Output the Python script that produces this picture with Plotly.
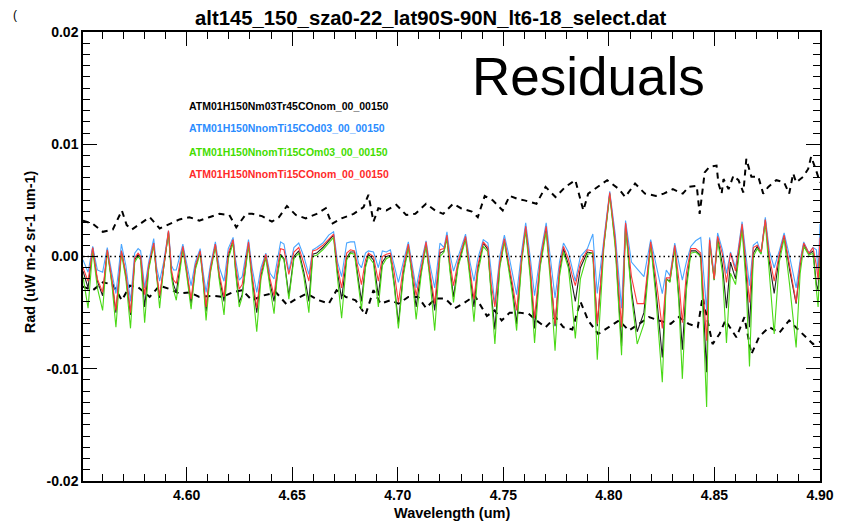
import plotly.graph_objects as go

SCALE = 1e-3  # values below are in units of 1e-3

wavelength = [
    4.5509, 4.5533, 4.5555, 4.5577, 4.5602, 4.5624, 4.5646, 4.5665, 4.5691, 4.5712,
    4.5734, 4.5754, 4.5770, 4.5782, 4.5801, 4.5820, 4.5844, 4.5858, 4.5872, 4.5891,
    4.5914, 4.5928, 4.5938, 4.5951, 4.5982, 4.5999, 4.6021, 4.6041, 4.6064, 4.6079,
    4.6092, 4.6112, 4.6136, 4.6155, 4.6177, 4.6197, 4.6220, 4.6232, 4.6249, 4.6263,
    4.6293, 4.6310, 4.6332, 4.6352, 4.6375, 4.6395, 4.6414, 4.6428, 4.6445, 4.6461,
    4.6484, 4.6508, 4.6531, 4.6555, 4.6579, 4.6597, 4.6616, 4.6645, 4.6673, 4.6696,
    4.6715, 4.6734, 4.6758, 4.6776, 4.6795, 4.6814, 4.6828, 4.6847, 4.6861, 4.6885,
    4.6908, 4.6927, 4.6946, 4.6965, 4.6984, 4.7003, 4.7026, 4.7050, 4.7069, 4.7087,
    4.7111, 4.7134, 4.7153, 4.7175, 4.7200, 4.7219, 4.7233, 4.7247, 4.7264, 4.7285,
    4.7321, 4.7342, 4.7361, 4.7379, 4.7405, 4.7427, 4.7443, 4.7460, 4.7483, 4.7505,
    4.7524, 4.7544, 4.7563, 4.7587, 4.7606, 4.7627, 4.7648, 4.7674, 4.7703, 4.7722,
    4.7745, 4.7766, 4.7785, 4.7808, 4.7825, 4.7841, 4.7865, 4.7898, 4.7924, 4.7945,
    4.7976, 4.8004, 4.8030, 4.8060, 4.8079, 4.8107, 4.8134, 4.8166, 4.8198, 4.8222,
    4.8253, 4.8272, 4.8289, 4.8312, 4.8331, 4.8348, 4.8367, 4.8388, 4.8411, 4.8435,
    4.8463, 4.8477, 4.8499, 4.8515, 4.8538, 4.8557, 4.8576, 4.8600, 4.8631, 4.8650,
    4.8666, 4.8684, 4.8703, 4.8721, 4.8741, 4.8760, 4.8783, 4.8807, 4.8830, 4.8856,
    4.8887, 4.8906, 4.8923, 4.8948, 4.8967, 4.8983, 4.8991, 4.9000,
]

# black: ATM01H150Nm03Tr45COnom_00_00150
res_nm03 = [
    -1.3, -2.8, 0.8, -2.2, -3.5, 0.6, -2.3, -5.0, 0.5, -1.7,
    -5.2, -0.3, 0.2, -0.1, -4.5, -1.0, 1.2, -1.7, -3.7, -0.9,
    2.2, -1.5, -2.5, -3.2, 0.9, -1.2, -4.2, -1.0, 0.5, -2.2,
    -4.9, -1.3, 1.1, -1.9, -4.0, 0.0, 1.5, -1.2, -4.1, -3.4,
    1.2, -2.0, -5.0, -1.7, 0.1, -2.4, -4.0, -1.8, 0.2, -0.2,
    -3.5, 0.0, 0.5, -1.4, -4.0, 0.2, 0.3, 0.8, 1.4, 1.9,
    -1.5, -3.8, -0.1, 0.4, 0.4, -2.0, -4.0, -0.8, 0.2, -0.3,
    -3.5, -0.5, 0.0, 0.1, -2.5, -6.0, -1.5, 1.0, -1.7, -4.5,
    -1.3, 1.1, -1.8, -4.8, 0.3, 0.5, 1.8, -1.0, -3.6, -0.8,
    1.7, -1.6, -4.5, -1.1, 1.2, 0.6, -3.3, -6.5, -0.8, 1.5,
    -0.7, -3.0, -6.0, -0.2, 2.6, -1.3, -6.4, -0.8, 2.6, -1.5,
    -6.2, -1.4, 0.7, -0.7, -2.5, -4.0, -1.0, 0.4, 0.3, -6.2,
    1.0, 5.6, 1.2, -8.0, 2.9, -3.0, -6.7, -5.0, 1.3, -2.8,
    -9.0, -2.0, -2.2, 0.9, -3.5, -8.3, -2.5, 0.5, 0.5, 0.1,
    -10.3, 1.4, -2.1, 1.7, -0.8, -4.6, -0.5, -2.0, 2.8, -1.5,
    -6.3, 0.3, 0.9, 0.3, 3.3, -0.5, -3.3, 0.0, 1.9, -1.2,
    -4.2, -0.8, 1.1, 0.2, 0.5, -2.5, -3.0, 0.8,
]

# blue: ATM01H150NnomTi15COd03_00_00150
res_cod03 = [
    -0.3, -1.4, 0.9, -1.2, -1.4, 0.8, -1.5, -3.3, 1.1, -0.8,
    -4.0, 0.3, 0.7, 0.5, -2.8, -0.5, 1.6, -1.0, -2.2, -0.5,
    2.3, -0.8, -1.2, -1.2, 1.1, -0.5, -2.6, -0.5, 0.7, -1.5,
    -3.2, -0.8, 1.3, -1.0, -2.2, 0.7, 1.7, -0.3, -2.1, -1.8,
    1.5, -1.0, -3.2, -1.0, 0.3, -1.5, -2.0, -0.5, 1.3, 1.1,
    -1.3, 0.8, 1.2, 0.0, -1.6, 0.6, 0.8, 1.2, 1.9, 2.2,
    -0.5, -1.8, 1.2, 1.3, 1.3, -0.6, -1.0, 0.3, 0.5, 0.4,
    -1.0, 0.5, 0.4, 0.6, -0.8, -2.3, -0.5, 1.3, -0.8, -2.8,
    -0.5, 1.4, -0.8, -2.8, 1.2, 0.8, 2.2, 0.2, -1.3, 0.0,
    2.0, -0.5, -2.2, -0.2, 1.5, 1.2, -1.5, -4.2, 0.0, 1.9,
    0.3, -1.5, -3.4, 0.5, 3.0, 0.0, -3.5, 0.0, 3.0, 0.0,
    -3.7, -0.5, 1.2, 0.4, -1.0, -2.2, 0.0, 0.7, 2.0, -3.3,
    1.5, 5.8, 2.0, -4.6, 3.2, -0.5, -1.1, -1.8, 1.5, -0.5,
    -3.3, -1.2, -1.7, 1.2, -0.5, -2.1, -0.5, 0.9, 1.4, 1.7,
    -4.8, 1.7, -1.7, 2.1, 0.6, -1.5, 0.4, -1.0, 3.1, 0.0,
    -2.6, 1.0, 1.3, 0.3, 3.5, 0.5, -1.0, 0.5, 2.1, 0.0,
    -2.8, -0.3, 1.3, 0.3, 0.8, 0.6, -1.5, 2.9,
]

# green: ATM01H150NnomTi15COm03_00_00150
res_com03 = [
    -1.8, -4.6, 0.6, -2.8, -4.8, 0.5, -2.5, -6.3, 0.3, -2.0,
    -6.4, -0.5, 0.0, -0.3, -5.9, -1.2, 1.0, -2.0, -4.6, -1.0,
    2.1, -1.8, -3.0, -3.9, 0.7, -1.5, -4.7, -1.2, 0.3, -2.5,
    -5.7, -1.5, 0.9, -2.2, -5.2, -0.2, 1.2, -1.5, -4.5, -3.6,
    1.0, -2.4, -6.7, -2.0, -0.1, -2.8, -5.1, -2.0, 0.1, -0.3,
    -3.8, -0.2, 0.3, -1.8, -5.0, 0.0, 0.1, 0.6, 1.2, 1.7,
    -2.0, -5.5, -0.3, 0.3, 0.2, -2.5, -4.7, -1.0, 0.0, -0.6,
    -4.5, -0.8, -0.2, 0.0, -2.8, -6.4, -1.8, 0.9, -2.0, -5.6,
    -1.6, 1.0, -2.2, -6.6, 0.0, 0.4, 1.6, -1.3, -4.1, -1.0,
    1.5, -2.0, -5.8, -1.5, 0.9, 0.4, -4.0, -7.8, -1.0, 1.3,
    -1.0, -3.5, -6.6, -0.5, 2.3, -1.8, -7.7, -1.0, 2.2, -2.0,
    -8.4, -1.8, 0.4, -1.0, -4.0, -7.3, -2.0, 0.2, 0.3, -9.2,
    0.8, 5.5, 0.8, -8.8, 2.7, -3.5, -7.8, -6.0, 1.1, -3.5,
    -11.2, -2.0, -2.3, 0.7, -4.0, -10.9, -3.0, 0.3, 0.4, 0.0,
    -13.4, 1.2, -2.1, 1.5, -1.5, -7.7, -1.5, -2.5, 2.4, -2.5,
    -9.8, 0.0, 0.7, 0.2, 3.0, -1.5, -6.9, -0.5, 1.6, -2.5,
    -8.1, -1.5, 0.9, 0.1, 0.3, -3.0, -4.5, -0.1,
]

# red: ATM01H150NnomTi15COnom_00_00150
res_conom = [
    -1.0, -2.2, 0.8, -2.0, -3.2, 0.6, -2.0, -4.8, 0.5, -1.5,
    -5.0, -0.1, 0.3, 0.0, -3.4, -0.8, 1.2, -1.5, -3.5, -0.8,
    2.3, -1.2, -2.1, -2.4, 0.9, -1.0, -3.8, -0.8, 0.5, -2.0,
    -4.5, -1.1, 1.1, -1.6, -3.6, 0.3, 1.5, -0.8, -2.9, -2.5,
    1.3, -1.6, -4.6, -1.4, 0.2, -2.0, -3.5, -1.2, 0.7, 0.6,
    -1.6, 0.4, 0.8, -0.6, -2.2, 0.5, 0.6, 1.0, 1.6, 2.0,
    -1.0, -2.8, 0.3, 0.6, 0.5, -1.4, -2.5, -0.3, 0.3, 0.0,
    -2.2, 0.0, 0.2, 0.3, -1.5, -4.1, -1.0, 1.1, -1.3, -3.5,
    -1.0, 1.3, -1.4, -4.2, 0.6, 0.7, 1.9, -0.5, -2.6, -0.5,
    1.8, -1.2, -3.8, -0.8, 1.3, 0.8, -2.5, -4.5, -0.5, 1.6,
    -0.3, -2.5, -4.8, 0.0, 2.7, -0.8, -5.5, -0.4, 2.7, -1.0,
    -6.0, -1.0, 0.9, -0.2, -1.6, -2.6, -0.6, 0.6, 0.5, -6.0,
    1.2, 5.7, 1.5, -6.3, 3.0, -1.8, -4.2, -4.2, 1.3, -1.8,
    -6.4, -1.9, -1.9, 1.0, -2.0, -5.9, -1.5, 0.7, 0.7, 0.3,
    -7.5, 1.5, -2.0, 1.8, 0.2, -2.3, 0.3, -1.3, 2.9, -0.8,
    -4.1, 0.8, 1.0, 0.4, 3.3, 0.0, -2.2, 0.2, 1.9, -0.8,
    -4.1, -0.6, 1.2, 0.3, 0.8, -0.8, -2.1, 1.7,
]

wl_upper = [
    4.5509, 4.5556, 4.5603, 4.5650, 4.5693, 4.5716, 4.5740, 4.5778, 4.5825, 4.5872,
    4.5919, 4.5966, 4.6013, 4.6060, 4.6107, 4.6155, 4.6202, 4.6235, 4.6282, 4.6310,
    4.6357, 4.6404, 4.6437, 4.6475, 4.6517, 4.6564, 4.6616, 4.6659, 4.6687, 4.6734,
    4.6791, 4.6838, 4.6861, 4.6885, 4.6908, 4.6946, 4.6993, 4.7040, 4.7083, 4.7134,
    4.7177, 4.7215, 4.7262, 4.7299, 4.7351, 4.7379, 4.7412, 4.7450, 4.7497, 4.7530,
    4.7572, 4.7601, 4.7657, 4.7700, 4.7747, 4.7794, 4.7841, 4.7879, 4.7902, 4.7949,
    4.7992, 4.8048, 4.8077, 4.8124, 4.8171, 4.8223, 4.8260, 4.8303, 4.8350, 4.8378,
    4.8416, 4.8430, 4.8454, 4.8477, 4.8510, 4.8519, 4.8534, 4.8543, 4.8567, 4.8590,
    4.8614, 4.8637, 4.8651, 4.8675, 4.8708, 4.8731, 4.8755, 4.8793, 4.8830, 4.8854,
    4.8873, 4.8887, 4.8920, 4.8944, 4.8958, 4.8981, 4.9000,
]
upper_env = [
    3.2, 2.9, 2.2, 2.4, 4.1, 2.8, 2.4, 2.9, 3.5, 2.5,
    2.9, 3.3, 3.5, 3.2, 3.5, 3.8, 3.7, 2.6, 3.8, 3.8,
    3.6, 3.1, 3.5, 4.5, 3.7, 3.4, 3.8, 4.3, 2.9, 3.4,
    3.8, 4.4, 5.5, 3.1, 4.3, 4.1, 4.6, 3.7, 3.8, 4.7,
    4.1, 3.8, 4.7, 4.3, 4.0, 3.5, 5.4, 5.0, 4.1, 5.4,
    5.1, 5.0, 4.7, 6.2, 5.3, 6.2, 6.8, 4.1, 5.6, 6.2,
    6.8, 6.0, 5.3, 6.5, 5.6, 5.4, 5.6, 6.0, 5.6, 6.2,
    6.3, 3.8, 7.5, 8.0, 8.1, 6.5, 5.6, 6.9, 6.0, 7.2,
    6.8, 5.7, 8.7, 7.1, 7.1, 5.6, 6.2, 6.8, 6.6, 5.6,
    7.4, 6.6, 7.1, 7.8, 8.9, 7.7, 6.6,
]

wl_lower = [
    4.5509, 4.5556, 4.5603, 4.5650, 4.5693, 4.5731, 4.5768, 4.5825, 4.5872, 4.5919,
    4.5966, 4.6013, 4.6060, 4.6122, 4.6169, 4.6216, 4.6263, 4.6310, 4.6357, 4.6423,
    4.6475, 4.6517, 4.6569, 4.6626, 4.6673, 4.6710, 4.6753, 4.6800, 4.6847, 4.6885,
    4.6918, 4.6965, 4.7003, 4.7050, 4.7097, 4.7134, 4.7177, 4.7224, 4.7271, 4.7309,
    4.7365, 4.7398, 4.7422, 4.7459, 4.7492, 4.7530, 4.7577, 4.7620, 4.7657, 4.7700,
    4.7747, 4.7784, 4.7827, 4.7865, 4.7902, 4.7949, 4.8001, 4.8048, 4.8095, 4.8143,
    4.8190, 4.8237, 4.8293, 4.8331, 4.8378, 4.8421, 4.8444, 4.8491, 4.8524, 4.8552,
    4.8604, 4.8642, 4.8675, 4.8713, 4.8760, 4.8807, 4.8854, 4.8896, 4.8934, 4.8967,
    4.9000,
]
lower_env = [
    -2.7, -3.0, -2.3, -2.5, -3.9, -2.6, -2.7, -3.6, -2.6, -2.9,
    -3.3, -3.2, -3.6, -3.5, -3.6, -3.2, -3.0, -3.9, -3.5, -3.2,
    -4.3, -3.8, -3.3, -3.9, -4.2, -3.0, -3.6, -3.9, -5.2, -3.0,
    -4.2, -3.9, -4.2, -3.6, -3.6, -4.6, -3.75, -3.75, -4.6, -4.2,
    -3.5, -4.5, -5.3, -4.8, -5.7, -5.0, -5.0, -5.1, -5.7, -6.3,
    -5.4, -6.3, -6.5, -4.0, -5.7, -6.9, -6.3, -5.7, -6.6, -6.0,
    -5.4, -5.7, -6.0, -5.4, -6.0, -6.3, -3.6, -7.8, -6.9, -5.7,
    -7.2, -5.4, -8.7, -7.1, -6.3, -6.8, -5.7, -6.5, -7.2, -7.8,
    -7.6,
]

series_names = [
    "ATM01H150Nm03Tr45COnom_00_00150",
    "ATM01H150NnomTi15COd03_00_00150",
    "ATM01H150NnomTi15COm03_00_00150",
    "ATM01H150NnomTi15COnom_00_00150",
]
series_values = [res_nm03, res_cod03, res_com03, res_conom]
line_colors = ["#202020", "#4aa6ff", "#4ad916", "#ff3b3b"]
label_colors = ["#000000", "#2a8cff", "#44dd00", "#ff2a2a"]

y_tickvals = [-0.02, -0.01, 0.0, 0.01, 0.02]
y_ticktext = ["-0.02", "-0.01", "0.00", "0.01", "0.02"]
x_tickvals = [4.60, 4.65, 4.70, 4.75, 4.80, 4.85, 4.90]
x_ticktext = ["4.60", "4.65", "4.70", "4.75", "4.80", "4.85", "4.90"]

FONT = "Liberation Sans, Arial, Helvetica, sans-serif"

fig = go.Figure()

for xs, vals in ((wl_upper, upper_env), (wl_lower, lower_env)):
    fig.add_trace(go.Scatter(x=xs, y=[v * SCALE for v in vals], mode="lines", showlegend=False,
                             line=dict(color="black", width=2, dash="6px,5px"),
                             hoverinfo="skip"))

for name, vals, col in zip(series_names, series_values, line_colors):
    fig.add_trace(go.Scatter(x=wavelength, y=[v * SCALE for v in vals], mode="lines",
                             name=name, showlegend=False,
                             line=dict(color=col, width=1.1)))

fig.add_hline(y=0, line=dict(color="black", width=1.5, dash="1.5px,3px"))

# legend as coloured text
legend_y = [0.8352, 0.7855, 0.7334, 0.6837]
for name, col, yy in zip(series_names, label_colors, legend_y):
    fig.add_annotation(x=0.1417, y=yy, xref="paper", yref="paper", text=f"<b>{name}</b>",
                       showarrow=False, xanchor="left", yanchor="middle",
                       font=dict(family=FONT, size=10.5, color=col))

fig.add_annotation(x=0.686, y=0.90, xref="paper", yref="paper",
                   text="Residuals", showarrow=False, xanchor="center", yanchor="middle",
                   font=dict(family=FONT, size=53, color="black"))

fig.add_annotation(x=0.4723, y=1.031, xref="paper", yref="paper",
                   text="<b>alt145_150_sza0-22_lat90S-90N_lt6-18_select.dat</b>",
                   showarrow=False, xanchor="center", yanchor="middle",
                   font=dict(family=FONT, size=20.3, color="black"))

fig.add_annotation(x=-0.0715, y=0.51, xref="paper", yref="paper",
                   text="<b>Rad (uW m-2 sr-1 um-1)</b>", textangle=-90,
                   showarrow=False, xanchor="center", yanchor="middle",
                   font=dict(family=FONT, size=14.5, color="black"))

fig.add_annotation(x=0.5, y=-0.0713, xref="paper", yref="paper",
                   text="<b>Wavelength (um)</b>",
                   showarrow=False, xanchor="center", yanchor="middle",
                   font=dict(family=FONT, size=14.5, color="black"))

fig.add_annotation(x=0, y=1, xref="paper", yref="paper", xshift=-72, yshift=17,
                   text="(", showarrow=False, xanchor="left", yanchor="middle",
                   font=dict(family=FONT, size=12, color="black"))

axis_common = dict(
    showgrid=False, zeroline=False, showline=True, linecolor="black", linewidth=1.5,
    mirror="ticks", ticks="inside", ticklen=14, tickwidth=1.2, tickcolor="black",
    tickfont=dict(family=FONT, size=14, color="black", weight="bold"),
)

fig.update_xaxes(range=[4.5509, 4.90], tickmode="array", tickvals=x_tickvals, ticktext=x_ticktext,
                 minor=dict(ticks="inside", ticklen=7, dtick=0.01, tick0=4.60,
                            tickcolor="black", tickwidth=1.2, showgrid=False),
                 **axis_common)
fig.update_yaxes(range=[-0.02, 0.02], tickmode="array", tickvals=y_tickvals, ticktext=y_ticktext,
                 minor=dict(ticks="inside", ticklen=7, dtick=0.001, tick0=0,
                            tickcolor="black", tickwidth=1.2, showgrid=False),
                 **axis_common)

# the page body adds an 8px offset, so the figure is sized to fill the rest of the window
fig.update_layout(
    width=838, height=515,
    margin=dict(l=75, r=22, t=24, b=42, pad=0),
    paper_bgcolor="white", plot_bgcolor="white",
    showlegend=False,
)

fig.write_html("out.html")
